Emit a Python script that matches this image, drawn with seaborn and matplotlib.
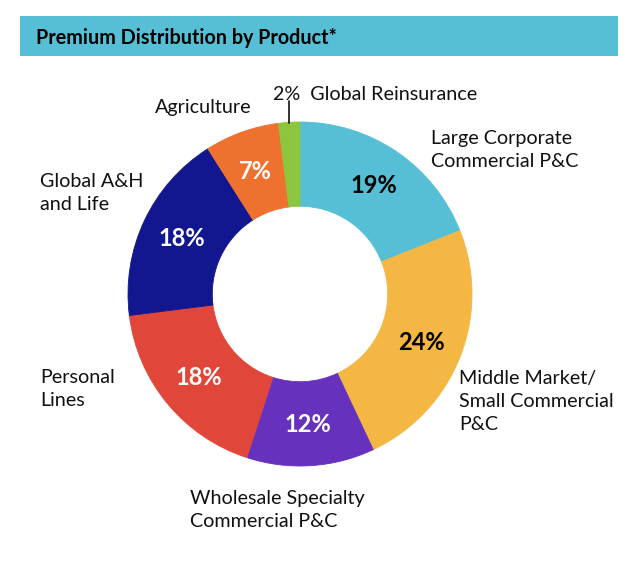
import matplotlib
matplotlib.use("Agg")
import matplotlib.pyplot as plt
from matplotlib.patches import Rectangle
import seaborn as sns

# data
products = ["Large Corporate\nCommercial P&C",
            "Middle Market/\nSmall Commercial\nP&C",
            "Wholesale Specialty\nCommercial P&C",
            "Personal\nLines",
            "Global A&H\nand Life",
            "Agriculture",
            "Global Reinsurance"]
shares = [19, 24, 12, 18, 18, 7, 2]
colors = ["#56bfd6", "#f5b744", "#6631bd", "#e0473a", "#12168f", "#ef7130", "#8cc63f"]
pct_colors = ["black", "black", "white", "white", "white", "white", None]

sns.set_theme(style="white")
plt.rcParams['font.family'] = ['Lato', 'DejaVu Sans']

W, H = 640, 569
fig = plt.figure(figsize=(W / 100, H / 100), dpi=100)
ax = fig.add_axes([0, 0, 1, 1])

# pixel helpers: center of donut at (300, 294), radius 172 px
cx, cy, R = 300, 294, 172
def px(x, y):
    return (x - cx) / R, (cy - y) / R

wedges, _, autotexts = ax.pie(
    shares, colors=colors, startangle=90, counterclock=False,
    radius=1, wedgeprops=dict(width=0.49, linewidth=0.6),
    autopct=lambda p: f"{p:.0f}%", pctdistance=0.76,
    textprops=dict(fontsize=17, fontweight="bold"))
for w, c in zip(wedges, colors):
    w.set_edgecolor(c)
for t, c in zip(autotexts, pct_colors):
    if c is None:
        t.set_visible(False)
    else:
        t.set_color(c)

ax.set_xlim(-cx / R, (W - cx) / R)
ax.set_ylim(-(H - cy) / R, cy / R)
ax.set_aspect("equal")
ax.axis("off")

# outside labels (left aligned blocks)
lab_kw = dict(fontsize=14.2, color="#111111", ha="left", va="top", linespacing=1.42)
label_pos = [(431, 130), (459, 370), (190, 490), (40, 369), (40, 173), (155, 99)]
for name, (x, y) in zip(products[:6], label_pos):
    ax.text(*px(x, y), name, **lab_kw)

# small slice label with leader line
ax.text(*px(273, 86), f"{shares[6]}%  {products[6]}", **lab_kw)
ax.plot(*zip(px(289, 101), px(289, 123)), color="#111111", lw=1.2)

# header bar
fig.add_artist(Rectangle((20 / W, 1 - 56 / H), 598 / W, 40 / H,
                         transform=fig.transFigure, facecolor="#56bfd6",
                         edgecolor="none"))
fig.text(36 / W, 1 - 44 / H, "Premium Distribution by Product*",
         fontsize=14.2, fontweight="bold", color="black", va="baseline", ha="left")

fig.savefig("out.png", dpi=100)
